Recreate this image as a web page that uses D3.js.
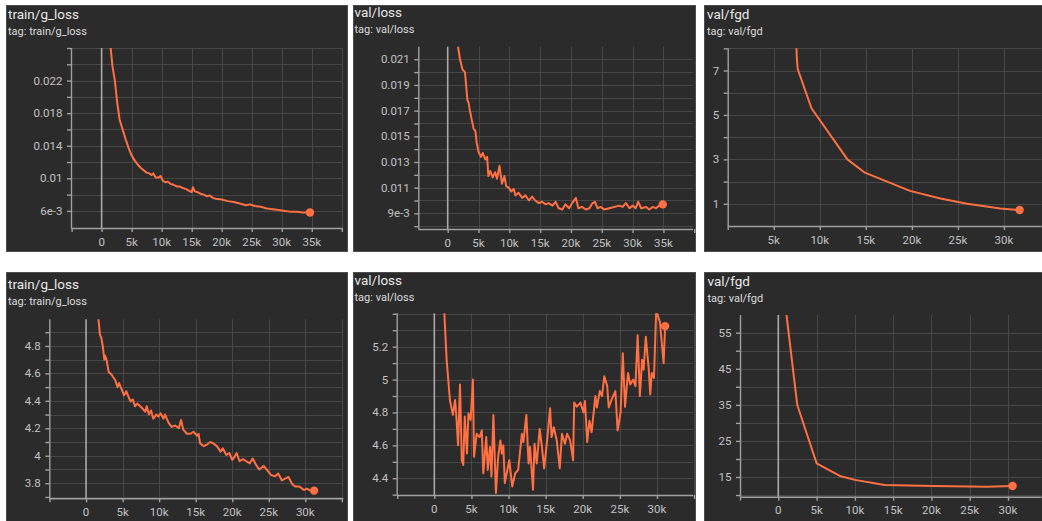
<!DOCTYPE html>
<html><head><meta charset="utf-8">
<script src="https://cdn.jsdelivr.net/npm/d3@7"></script>
<style>
html,body{margin:0;padding:0;background:#fff;}
svg{display:block;font-family:Roboto,"Noto Sans",sans-serif;}
</style></head><body>
<svg id="c" width="1042" height="521"></svg>
<script>
// ---------- DATA (steps in thousands) ----------
const titles = ["train/g_loss","val/loss","val/fgd","train/g_loss","val/loss","val/fgd"];

const gLossASteps = [1.3,1.8,2.2,2.6,3.0,3.5,4.0,4.5,5.0,5.5,6.0,6.5,7.0,7.5,8.0,8.3,8.6,9.0,9.5,9.8,10.2,10.7,11.0,11.5,12.0,12.5,13.0,13.5,14.0,14.5,15.0,15.2,15.5,16.0,16.5,17.0,17.5,18.0,18.5,19.0,20.0,21.0,22.0,23.0,24.0,24.7,25.5,26.5,27.5,28.5,29.5,30.5,31.5,32.5,33.5,34.7];
const gLossAValues = [0.0275,0.0238,0.0220,0.0193,0.0172,0.0160,0.0148,0.0137,0.0128,0.0122,0.0117,0.0113,0.0110,0.0107,0.0106,0.0104,0.0106,0.0101,0.0101,0.0103,0.0097,0.0095,0.0096,0.0093,0.0092,0.0090,0.0090,0.0088,0.0087,0.0085,0.0083,0.0089,0.0084,0.0083,0.0081,0.0080,0.0078,0.0079,0.0076,0.0075,0.0074,0.0072,0.0071,0.0069,0.0067,0.0068,0.0066,0.0065,0.0063,0.0062,0.0061,0.0060,0.0059,0.0059,0.0058,0.0058];

const valLossASteps = [1.5,2.0,2.4,2.8,3.2,3.4,3.6,4.2,4.5,4.7,5.0,5.4,5.7,6.1,6.4,6.6,6.9,7.3,7.7,8.0,8.4,8.8,9.2,9.5,9.9,10.3,10.7,11.0,11.5,12.1,12.6,13.2,13.7,14.2,14.8,15.3,15.9,16.4,17.0,17.5,18.0,18.6,19.1,19.7,20.2,20.8,21.2,21.8,22.4,23.0,23.5,23.9,24.3,24.8,25.4,26.2,27.0,27.8,28.4,28.9,29.5,30.0,30.5,30.9,31.4,32.2,32.7,33.3,33.8,34.3,34.9];
const valLossAValues = [0.0225,0.0210,0.0202,0.0200,0.0178,0.0176,0.0170,0.0156,0.0154,0.0145,0.0138,0.0134,0.0137,0.0132,0.0134,0.0119,0.0123,0.0118,0.0122,0.0117,0.0127,0.0113,0.0119,0.0111,0.0110,0.0107,0.0109,0.0104,0.0106,0.0102,0.0104,0.0100,0.0103,0.0100,0.0098,0.0099,0.0097,0.0098,0.0096,0.0099,0.0094,0.0093,0.0097,0.0094,0.0098,0.0102,0.0094,0.0095,0.0093,0.0094,0.0098,0.0099,0.0094,0.0095,0.0093,0.0094,0.0095,0.0096,0.0095,0.0098,0.0094,0.0096,0.0094,0.0099,0.0094,0.0095,0.0093,0.0095,0.0094,0.0096,0.0097];

const fgdASteps = [7.4,7.5,7.6,9.1,13.0,14.9,19.8,23.1,26.0,29.6,31.7];
const fgdAValues = [9.0,7.6,7.07,5.3,3.0,2.4,1.58,1.24,1.0,0.79,0.72];

const gLossBSteps = [1.6,1.9,2.1,2.3,2.5,2.6,2.8,3.1,3.5,4.0,4.3,4.5,4.9,5.2,5.5,5.8,6.1,6.4,6.7,7.0,7.4,7.8,8.1,8.3,8.6,8.9,9.2,9.6,9.9,10.2,10.6,10.8,11.3,11.7,12.2,12.7,13.0,13.3,13.8,14.3,14.7,15.2,15.4,15.6,16.1,16.5,17.0,17.4,17.9,18.4,18.7,19.2,19.6,20.0,20.3,20.6,21.0,21.5,21.9,22.4,22.8,23.3,23.7,24.3,24.7,25.3,25.9,26.3,26.8,27.3,27.7,28.2,28.6,29.2,29.8,30.2,30.7,31.2];
const gLossBValues = [5.05,4.88,4.856,4.795,4.70,4.73,4.70,4.61,4.59,4.55,4.50,4.53,4.48,4.44,4.47,4.43,4.395,4.41,4.36,4.38,4.36,4.34,4.32,4.36,4.30,4.33,4.27,4.30,4.285,4.31,4.27,4.30,4.24,4.21,4.22,4.20,4.26,4.19,4.16,4.16,4.175,4.145,4.16,4.09,4.07,4.08,4.10,4.09,4.07,4.03,4.055,4.006,4.02,3.97,3.99,4.02,3.96,3.975,3.96,3.945,3.98,3.93,3.90,3.926,3.90,3.86,3.85,3.87,3.82,3.835,3.845,3.795,3.776,3.776,3.75,3.76,3.746,3.746];

const valLossBSteps = [1.3,1.66,2.1,2.5,2.8,3.0,3.2,3.46,3.7,3.9,4.1,4.4,4.6,4.9,5.2,5.35,5.7,6.1,6.4,6.6,7.0,7.2,7.5,7.7,7.96,8.3,8.6,8.9,9.1,9.3,9.5,9.76,10.1,10.5,10.9,11.3,11.8,12.0,12.4,12.7,12.9,13.3,13.5,13.8,14.2,14.5,14.8,15.2,15.6,15.8,16.1,16.5,16.9,17.2,17.6,17.9,18.3,18.7,18.85,19.2,19.7,20.1,20.3,20.6,20.9,21.2,21.7,21.9,22.3,22.6,22.9,23.3,23.5,23.9,24.4,24.7,25.1,25.4,25.7,26.1,26.4,26.8,27.1,27.4,27.7,28.0,28.2,28.5,28.9,29.1,29.3,29.6,29.9,30.4,30.9,31.1];
const valLossBValues = [5.45,5.12,4.876,4.785,4.876,4.755,4.60,4.97,4.51,4.48,4.775,4.55,4.795,4.755,5.0,4.53,4.67,4.65,4.69,4.43,4.65,4.45,4.59,4.41,4.785,4.31,4.53,4.63,4.55,4.60,4.37,4.43,4.51,4.35,4.43,4.45,4.67,4.62,4.785,4.49,4.59,4.33,4.61,4.49,4.70,4.59,4.46,4.63,4.825,4.65,4.71,4.63,4.46,4.67,4.61,4.67,4.63,4.51,4.86,4.835,4.86,4.80,4.87,4.62,4.75,4.68,4.90,4.83,4.93,4.90,5.02,4.96,4.83,4.88,4.93,4.69,4.80,5.16,4.835,5.04,4.97,5.00,4.96,5.27,4.90,5.12,5.06,5.26,5.06,4.91,5.04,5.01,5.42,5.35,5.10,5.325];

const fgdBSteps = [0.9,2.48,5.0,8.04,10.0,13.9,20.2,27.2,30.6];
const fgdBValues = [63,34.95,18.8,15.3,14.2,12.8,12.5,12.3,12.5];

// tick values / labels
const xGridA = [-5,0,5,10,15,20,25,30,35,40];
const xGridB = [-5,0,5,10,15,20,25,30,35];
const xGridC = [0,5,10,15,20,25,30];
const xLabelsA = [0,5,10,15,20,25,30,35];
const xLabelsB = [0,5,10,15,20,25,30];
const xLabelsC = [5,10,15,20,25,30];

const yGrid1 = [0.006,0.008,0.010,0.012,0.014,0.016,0.018,0.020,0.022,0.024,0.026];
const yLab1 = [0.006,0.010,0.014,0.018,0.022];
const yTxt1 = ["6e-3","0.01","0.014","0.018","0.022"];
const yGrid2 = [0.008,0.009,0.010,0.011,0.012,0.013,0.014,0.015,0.016,0.017,0.018,0.019,0.020,0.021];
const yLab2 = [0.009,0.011,0.013,0.015,0.017,0.019,0.021];
const yTxt2 = ["9e-3","0.011","0.013","0.015","0.017","0.019","0.021"];
const yGrid3 = [1,2,3,4,5,6,7,8];
const yLab3 = [1,3,5,7];
const yTxt3 = ["1","3","5","7"];
const yGrid4 = [3.7,3.8,3.9,4.0,4.1,4.2,4.3,4.4,4.5,4.6,4.7,4.8,4.9];
const yLab4 = [3.8,4.0,4.2,4.4,4.6,4.8];
const yTxt4 = ["3.8","4","4.2","4.4","4.6","4.8"];
const yGrid5 = [4.3,4.4,4.5,4.6,4.7,4.8,4.9,5.0,5.1,5.2,5.3,5.4];
const yLab5 = [4.4,4.6,4.8,5.0,5.2];
const yTxt5 = ["4.4","4.6","4.8","5","5.2"];
const yGrid6 = [10,15,20,25,30,35,40,45,50,55];
const yLab6 = [15,25,35,45,55];
const yTxt6 = ["15","25","35","45","55"];

// ---------- LAYOUT ----------
const layout = [
  {box:[6,5,341,246], plot:[71,48,343,228], xd:[-5.1,40.2], yd:[0.0039,0.026], tx:8, ty:18.5, gy:34.5},
  {box:[353,5,342,246], plot:[418.3,46.7,693,229], xd:[-4.77,39.8], yd:[0.00778,0.02198], tx:354.5, ty:16.5, gy:32.5},
  {box:[704,5,342,246], plot:[727.7,48.3,1041.7,226], xd:[0,34.1], yd:[0,8], tx:707, ty:18.5, gy:35},
  {box:[6,272,341,260], plot:[49.3,319.3,343.3,498.3], xd:[-5.03,35.2], yd:[3.69,4.994], tx:8, ty:288.5, gy:305},
  {box:[353,272,342,260], plot:[396.7,313.3,693.3,495], xd:[-5.07,34.9], yd:[4.298,5.403], tx:354.5, ty:284.5, gy:300.5},
  {box:[704,272,342,260], plot:[740,315,1041.7,496.7], xd:[-5.0,34.4], yd:[9.54,59.9], tx:707.5, ty:286, gy:302}
];

const series = [
  {s:gLossASteps, v:gLossAValues, xg:xGridA, xl:xLabelsA, yg:yGrid1, yl:yLab1, yt:yTxt1},
  {s:valLossASteps, v:valLossAValues, xg:xGridA, xl:xLabelsA, yg:yGrid2, yl:yLab2, yt:yTxt2},
  {s:fgdASteps, v:fgdAValues, xg:xGridC, xl:xLabelsC, yg:yGrid3, yl:yLab3, yt:yTxt3},
  {s:gLossBSteps, v:gLossBValues, xg:xGridB, xl:xLabelsB, yg:yGrid4, yl:yLab4, yt:yTxt4},
  {s:valLossBSteps, v:valLossBValues, xg:xGridB, xl:xLabelsB, yg:yGrid5, yl:yLab5, yt:yTxt5},
  {s:fgdBSteps, v:fgdBValues, xg:xGridB, xl:xLabelsB, yg:yGrid6, yl:yLab6, yt:yTxt6}
];

const svg = d3.select("#c");
const defs = svg.append("defs");
const ORANGE = "#ff7043";

layout.forEach((L, i) => {
  const S = series[i];
  const [l,t,r,b] = L.plot;
  const x = d3.scaleLinear().domain(L.xd).range([l,r]);
  const y = d3.scaleLinear().domain(L.yd).range([b,t]);
  const g = svg.append("g");

  g.append("rect").attr("x",L.box[0]+0.5).attr("y",L.box[1]+0.5)
    .attr("width",L.box[2]).attr("height",L.box[3])
    .attr("fill","#2b2b2b").attr("stroke","#4d4d4d").attr("stroke-width",1);

  g.append("text").attr("x",L.tx).attr("y",L.ty).text(titles[i])
    .attr("fill","#e8e8e8").attr("font-size","13.5px");
  g.append("text").attr("x",L.tx).attr("y",L.gy).text("tag: " + titles[i])
    .attr("fill","#dcdcdc").attr("font-size","11px");

  // horizontal grid
  g.selectAll(".hg").data(S.yg.filter(d => y(d) >= t-0.5 && y(d) <= b-1)).enter().append("line")
    .attr("x1",l).attr("x2",r).attr("y1",d=>Math.round(y(d))+0.5).attr("y2",d=>Math.round(y(d))+0.5)
    .attr("stroke","#474747").attr("stroke-width",1);
  // vertical grid
  g.selectAll(".vg").data(S.xg.filter(d => x(d) > l+1 && x(d) <= r+1 && d !== 0)).enter().append("line")
    .attr("x1",d=>Math.round(x(d))+0.5).attr("x2",d=>Math.round(x(d))+0.5).attr("y1",t).attr("y2",b)
    .attr("stroke","#474747").attr("stroke-width",1);
  // zero line
  if (L.xd[0] < 0) {
    g.append("line").attr("x1",x(0)).attr("x2",x(0)).attr("y1",t).attr("y2",b)
      .attr("stroke","#a9a9a9").attr("stroke-width",1.6);
  }

  // axes
  const yAxis = d3.axisLeft(y).tickValues(S.yg.filter(d => y(d) >= t-0.5)).tickSize(4).tickFormat("");
  const ya = g.append("g").attr("transform",`translate(${l},0)`).call(yAxis);
  ya.select(".domain").attr("d",`M0.5,${t}V${b}`);
  const xAxis = d3.axisBottom(x).tickValues(S.xg.filter(d => x(d) >= l-1 && x(d) <= r+1.5)).tickSize(4).tickFormat("");
  const xa = g.append("g").attr("transform",`translate(0,${b})`).call(xAxis);
  xa.select(".domain").attr("d",`M${l},0.5H${r}`);
  g.selectAll(".domain, .tick line").attr("stroke","#a0a0a0").attr("stroke-width",1.4);

  // labels
  g.selectAll(".yl").data(S.yl).enter().append("text")
    .attr("x",l-8.5).attr("y",d=>y(d)+4).attr("text-anchor","end")
    .attr("fill","#c2c2c2").attr("font-size","11.5px").text((d,k)=>S.yt[k]);
  g.selectAll(".xl").data(S.xl).enter().append("text")
    .attr("x",d=>x(d)).attr("y",b+17.5).attr("text-anchor","middle")
    .attr("fill","#c2c2c2").attr("font-size","11.5px").text(d=> d===0 ? "0" : d + "k");

  // line
  const cid = "clip" + i;
  defs.append("clipPath").attr("id",cid).append("rect")
    .attr("x",l).attr("y",t).attr("width",r-l+6).attr("height",b-t);
  const pts = S.s.map((s,k)=>[s,S.v[k]]);
  const line = d3.line().x(d=>x(d[0])).y(d=>y(d[1]));
  g.append("path").attr("d",line(pts)).attr("clip-path",`url(#${cid})`)
    .attr("fill","none").attr("stroke",ORANGE).attr("stroke-width",2).attr("stroke-linejoin","round");
  const last = pts[pts.length-1];
  g.append("circle").attr("cx",x(last[0])).attr("cy",y(last[1])).attr("r",4.2).attr("fill",ORANGE);
});
</script>
</body></html>
